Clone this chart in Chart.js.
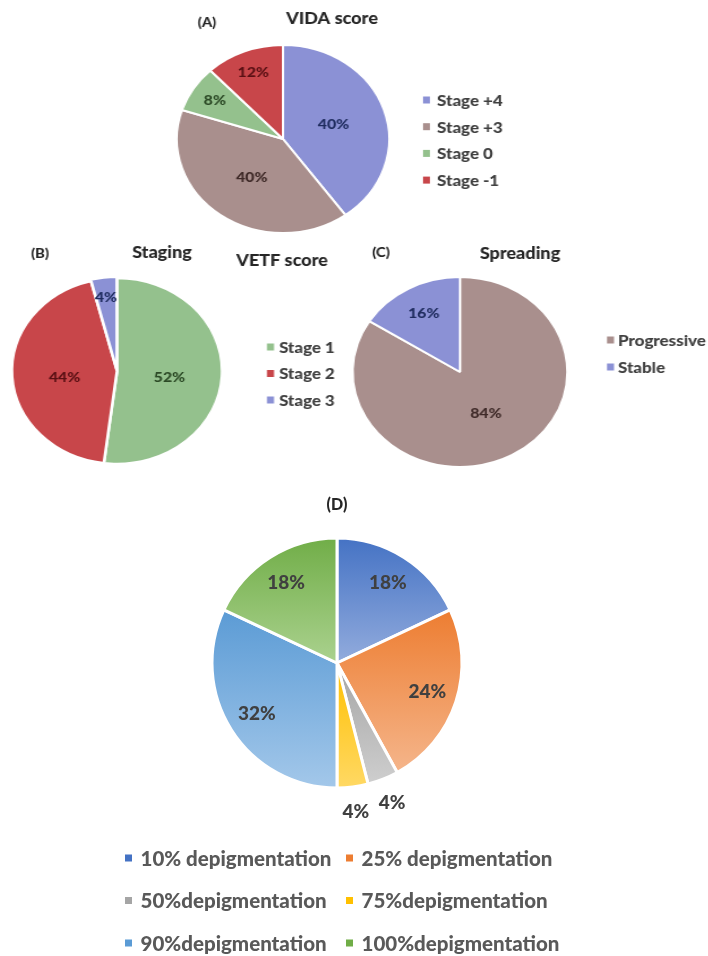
<!DOCTYPE html>
<html>
<head>
<meta charset="utf-8">
<title>Vitiligo scores</title>
<script src="https://cdn.jsdelivr.net/npm/chart.js@4"></script>
<style>
  html, body { margin: 0; padding: 0; background: #ffffff; }
  body { width: 708px; height: 956px; position: relative; overflow: hidden; }
  canvas { position: absolute; transform-origin: 0 0; }
</style>
</head>
<body>
<canvas id="vida"></canvas>
<canvas id="staging"></canvas>
<canvas id="spreading"></canvas>
<canvas id="depig"></canvas>
<script>
// ---- data ----
const vidaLabels = ['Stage +4', 'Stage +3', 'Stage 0', 'Stage -1'];
const vidaValues = [40, 40, 8, 12];

const stagingLabels = ['Stage 1', 'Stage 2', 'Stage 3'];
const stagingValues = [52, 44, 4];

const spreadLabels = ['Progressive', 'Stable'];
const spreadValues = [84, 16];

const depigLabels = ['10% depigmentation', '25% depigmentation', '50%depigmentation',
                     '75%depigmentation', '90%depigmentation', '100%depigmentation'];
const depigValues = [18, 24, 4, 4, 32, 18];

// ---- colours ----
const BLUE = '#8b91d5', MAUVE = '#a98f8d', GREEN = '#94c18d', RED = '#c8464a';
const BLUE_TXT = '#1e2b5e', MAUVE_TXT = '#3f2a28', GREEN_TXT = '#2c4a26', RED_TXT = '#5a1014';

const vidaColors = [BLUE, MAUVE, GREEN, RED];
const vidaText = [BLUE_TXT, MAUVE_TXT, GREEN_TXT, RED_TXT];
const stagingColors = [GREEN, RED, BLUE];
const stagingText = [GREEN_TXT, RED_TXT, BLUE_TXT];
const stagingOffset = [0, 0, 3];
const spreadColors = [MAUVE, BLUE];
const spreadText = [MAUVE_TXT, BLUE_TXT];

const depigTop = ['#4472c4', '#ed7d31', '#a5a5a5', '#ffc000', '#5b9bd5', '#70ad47'];
const depigBottom = ['#93acdd', '#f5b68c', '#cfcfcf', '#ffd966', '#a4c8ea', '#abd28f'];

const FONT_WEIGHT = '900';
Chart.defaults.font.family = 'Lato, "Open Sans", sans-serif';

// ---- plugins ----
// titles drawn in page coordinates, mapped into the (possibly stretched) canvas
const panelText = {
  id: 'panelText',
  afterDraw(chart, args, o) {
    const ctx = chart.ctx, p = o.panel;
    ctx.save();
    ctx.textAlign = 'center';
    ctx.textBaseline = 'middle';
    o.items.forEach(it => {
      ctx.font = `${FONT_WEIGHT} ${it.size}px Lato`;
      ctx.fillStyle = it.color;
      ctx.fillText(it.text, (it.x - p.left) / p.sx, it.y - p.top);
    });
    ctx.restore();
  }
};

// legend laid out in a grid of columns
const gridLegend = {
  id: 'gridLegend',
  afterDraw(chart, args, o) {
    const ctx = chart.ctx, p = o.panel;
    const labels = chart.data.labels;
    ctx.save();
    ctx.font = `${FONT_WEIGHT} ${o.size}px Lato`;
    ctx.textAlign = 'left';
    ctx.textBaseline = 'middle';
    labels.forEach((lab, i) => {
      const col = i % o.cols, row = Math.floor(i / o.cols);
      const bx = o.x[col], by = o.y + row * o.rowGap;
      ctx.fillStyle = o.colors[i];
      ctx.fillRect((bx - p.left) / p.sx, by - p.top - o.box / 2, o.box / p.sx, o.box);
      ctx.fillStyle = o.color;
      ctx.fillText(lab, (bx + o.textGap - p.left) / p.sx, by - p.top + 1);
    });
    ctx.restore();
  }
};

// percentage labels on the slices
const sliceLabels = {
  id: 'sliceLabels',
  afterDatasetsDraw(chart, args, o) {
    const ctx = chart.ctx;
    const meta = chart.getDatasetMeta(0);
    const vals = chart.data.datasets[0].data;
    const total = vals.reduce((a, b) => a + b, 0);
    ctx.save();
    ctx.font = `${FONT_WEIGHT} ${o.size}px Lato`;
    ctx.textAlign = 'center';
    ctx.textBaseline = 'middle';
    meta.data.forEach((arc, i) => {
      const { x, y, startAngle, endAngle, outerRadius } =
        arc.getProps(['x', 'y', 'startAngle', 'endAngle', 'outerRadius'], true);
      const mid = (startAngle + endAngle) / 2;
      const f = vals[i] / total >= o.threshold ? o.inner : o.outer;
      ctx.fillStyle = o.colors ? o.colors[i] : o.color;
      ctx.fillText(vals[i] + '%', x + Math.cos(mid) * outerRadius * f,
                   y + Math.sin(mid) * outerRadius * f + (o.dy || 0));
    });
    ctx.restore();
  }
};

// per-slice top-to-bottom gradient fill
function sliceGradient(tops, bottoms) {
  return (c) => {
    const i = c.dataIndex;
    const chart = c.chart, area = chart.chartArea;
    if (i === undefined || !area) return tops[i || 0];
    const vals = chart.data.datasets[0].data;
    const total = vals.reduce((a, b) => a + b, 0);
    const before = vals.slice(0, i).reduce((a, b) => a + b, 0);
    const cy = (area.top + area.bottom) / 2;
    const r = Math.min(area.right - area.left, area.bottom - area.top) / 2;
    const a0 = -Math.PI / 2 + 2 * Math.PI * before / total;
    const a1 = a0 + 2 * Math.PI * vals[i] / total;
    const ys = [cy, cy + r * Math.sin(a0), cy + r * Math.sin(a1)];
    const inRange = (a) => { for (let k = -1; k <= 1; k++) { const t = a + 2 * Math.PI * k; if (t >= a0 && t <= a1) return true; } return false; };
    if (inRange(Math.PI / 2)) ys.push(cy + r);
    if (inRange(-Math.PI / 2)) ys.push(cy - r);
    const y0 = Math.min(...ys), y1 = Math.max(...ys);
    const g = chart.ctx.createLinearGradient(0, y0, 0, y1 + 1);
    g.addColorStop(0, tops[i]);
    g.addColorStop(1, bottoms[i]);
    return g;
  };
}

// one pie per canvas; page geometry -> canvas size and padding
function makePie(id, geo, data, opts) {
  const canvas = document.getElementById(id);
  const iw = Math.round(geo.width / geo.sx);
  canvas.width = iw;
  canvas.height = geo.height;
  canvas.style.width = iw + 'px';
  canvas.style.height = geo.height + 'px';
  canvas.style.left = geo.left + 'px';
  canvas.style.top = geo.top + 'px';
  canvas.style.transform = `scaleX(${geo.sx})`;
  const icx = (geo.cx - geo.left) / geo.sx, icy = geo.cy - geo.top;
  const half = geo.r + (geo.border + (geo.offsetMax || 0)) / 2;
  const panel = { left: geo.left, top: geo.top, sx: geo.sx };
  return new Chart(canvas, {
    type: 'pie',
    data: {
      labels: data.labels,
      datasets: [{
        data: data.values,
        backgroundColor: data.fill,
        borderColor: '#ffffff',
        borderWidth: geo.border,
        offset: data.offset || 0
      }]
    },
    options: {
      responsive: false,
      animation: false,
      events: [],
      layout: {
        padding: {
          left: icx - half, right: iw - icx - half,
          top: icy - half, bottom: geo.height - icy - half
        }
      },
      plugins: {
        legend: { display: false },
        tooltip: { enabled: false },
        panelText: { panel, items: opts.titles },
        gridLegend: Object.assign({ panel }, opts.legend),
        sliceLabels: opts.labels
      }
    },
    plugins: [sliceLabels, gridLegend, panelText]
  });
}

const TITLE = '#262626', LEG = '#404040';

// (A) VIDA score
makePie('vida',
  { left: 170, top: 0, width: 390, height: 240, sx: 1.13, cx: 283, cy: 139, r: 94, border: 2 },
  { labels: vidaLabels, values: vidaValues, fill: vidaColors },
  {
    titles: [
      { text: '(A)', x: 207, y: 23, size: 13, color: TITLE },
      { text: 'VIDA score', x: 332, y: 19, size: 16, color: TITLE }
    ],
    legend: { x: [423], y: 100, rowGap: 26.7, cols: 1, box: 7, textGap: 14, size: 15, color: LEG, colors: vidaColors },
    labels: { size: 14, threshold: 0.15, inner: 0.5, outer: 0.76, colors: vidaText }
  });

// (B) VETF staging
makePie('staging',
  { left: 0, top: 240, width: 360, height: 235, sx: 1.13, cx: 117, cy: 371, r: 93, border: 2.5, offsetMax: 3 },
  { labels: stagingLabels, values: stagingValues, fill: stagingColors, offset: stagingOffset },
  {
    titles: [
      { text: '(B)', x: 40, y: 254, size: 13, color: TITLE },
      { text: 'Staging', x: 162, y: 253, size: 16, color: TITLE },
      { text: 'VETF score', x: 282, y: 261, size: 16, color: TITLE }
    ],
    legend: { x: [267], y: 347, rowGap: 26.5, cols: 1, box: 7, textGap: 12, size: 15, color: LEG, colors: stagingColors },
    labels: { size: 14, threshold: 0.15, inner: 0.5, outer: 0.84, colors: stagingText, dy: 4 }
  });

// (C) VETF spreading
makePie('spreading',
  { left: 340, top: 240, width: 368, height: 235, sx: 1.13, cx: 460, cy: 372, r: 95, border: 2 },
  { labels: spreadLabels, values: spreadValues, fill: spreadColors },
  {
    titles: [
      { text: '(C)', x: 381, y: 253, size: 13, color: TITLE },
      { text: 'Spreading', x: 520, y: 254, size: 16, color: TITLE }
    ],
    legend: { x: [607], y: 340, rowGap: 27, cols: 1, box: 7, textGap: 11, size: 15, color: LEG, colors: spreadColors },
    labels: { size: 14, threshold: 0.2, inner: 0.5, outer: 0.7, colors: spreadText }
  });

// (D) depigmentation
makePie('depig',
  { left: 100, top: 490, width: 500, height: 466, sx: 1, cx: 337, cy: 663, r: 125, border: 3 },
  { labels: depigLabels, values: depigValues, fill: sliceGradient(depigTop, depigBottom) },
  {
    titles: [
      { text: '(D)', x: 337, y: 505, size: 16, color: TITLE }
    ],
    legend: { x: [125, 346], y: 858, rowGap: 42.5, cols: 2, box: 7, textGap: 15.5, size: 20.5, color: '#595959', colors: depigTop },
    labels: { size: 19, threshold: 0.1, inner: 0.76, outer: 1.2, color: '#404040' }
  });
</script>
</body>
</html>
